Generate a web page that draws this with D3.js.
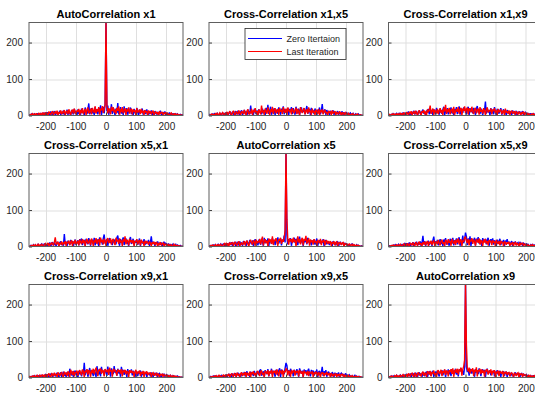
<!DOCTYPE html>
<html>
<head>
<meta charset="utf-8">
<script src="https://cdn.jsdelivr.net/npm/d3@7"></script>
<style>
  html, body { margin: 0; padding: 0; background: #ffffff; }
  svg { display: block; font-family: "Liberation Sans", Arial, Helvetica, sans-serif; }
</style>
</head>
<body>
<svg id="chart" width="535" height="398"></svg>
<script>
// Lag axis of the correlation sequences (every 3rd lag, -255 … 255)
const lags = d3.range(-255, 256, 3);

const titles = [
  "AutoCorrelation x1", "Cross-Correlation x1,x5", "Cross-Correlation x1,x9",
  "Cross-Correlation x5,x1", "AutoCorrelation x5", "Cross-Correlation x5,x9",
  "Cross-Correlation x9,x1", "Cross-Correlation x9,x5", "AutoCorrelation x9"
];
const seriesNames = ["Zero Itertaion", "Last Iteration"];
const xTicks = [-200, -100, 0, 100, 200];
const yTicks = [0, 100, 200];

// |correlation| at the zero iteration and at the last iteration, one pair per subplot
const zero11 = [0,2,1,4,0,3,5,1,2,6,0,4,2,7,1,3,6,2,8, 1,9,3,6,0,11,4,2,8,12,1,5,10,3,7,13,2,9,4,
  14,1,8,5,16,2,11,7,0,15,9,3,18,6,12,1,17,4,10, 2,19,7,13,0,22,9,4,16,33,3,11,20,6,14,1,24,8,17,
  3,21,10,28,1,15,24,6,30,256,12,27,2,18,9,31,4,22,13, 0,19,7,34,3,14,23,5,17,1,25,10,6,20,2,15,11,22,4,
  13,1,18,8,3,21,10,0,16,6,12,19,2,9,14,4,17,7,1, 11,5,14,2,9,0,12,6,3,10,1,8,13,4,0,9,5,11,2,
  7,0,4,8,1,5,2,6,0,3,5,1,4,0,2,3,1,2,0];
const last11 = [1,0,3,2,5,1,4,2,6,0,3,7,2,5,1,8,3,6,2, 9,4,1,11,6,3,8,12,2,7,10,4,13,1,9,5,14,3,11,
  6,15,2,10,13,4,17,8,1,12,16,5,19,9,3,14,11,18,2, 15,7,20,4,12,18,1,16,22,6,10,19,3,21,13,8,25,5,17,
  11,23,2,19,14,26,7,18,30,256,28,6,20,15,3,24,12,22,8, 16,4,21,13,25,2,18,9,23,6,14,20,1,17,11,22,5,15,19,
  3,17,10,14,1,20,8,12,16,4,18,7,13,2,15,9,11,0,14, 6,12,3,10,13,1,8,11,4,9,0,12,5,7,10,2,8,4,9,
  1,6,3,0,5,7,2,4,0,6,1,3,4,0,2,1,2,0,1];

const zero15 = [0,3,1,0,4,2,5,0,3,6,1,2,7,0,4,8,2,5,1, 9,3,0,7,11,2,6,10,4,1,12,8,3,13,5,0,10,14,2,
  7,15,4,11,1,16,9,3,27,6,13,0,18,10,5,14,2,17,8, 12,3,19,6,15,1,21,9,29,4,13,24,2,17,8,20,0,16,11,
  5,22,14,2,19,9,25,3,16,15,7,21,1,18,12,23,4,20,10, 2,24,13,6,19,1,17,22,8,11,20,3,15,26,5,12,18,0,21,
  9,14,4,19,11,1,16,7,22,3,13,31,6,10,17,2,15,8,12, 1,13,6,9,14,2,11,4,8,12,0,10,5,7,11,1,9,3,6,
  8,2,0,5,7,1,4,6,0,3,5,2,1,4,0,2,1,0,0];
const last15 = [1,0,2,4,1,3,0,5,2,6,3,1,7,4,2,8,5,1,6, 3,10,2,7,12,4,0,9,13,5,1,11,8,3,14,6,2,12,9,
  4,15,7,1,13,17,3,10,6,18,2,14,9,20,5,12,1,16,11, 3,27,8,14,2,19,11,5,22,13,1,17,9,24,4,15,20,6,12,
  18,2,21,10,16,4,23,13,7,19,1,22,14,9,17,3,20,12,6, 15,21,4,18,10,1,23,13,7,16,20,3,12,17,5,22,9,14,2,
  19,8,13,2,16,11,5,18,1,14,9,17,3,12,15,6,10,0,13, 7,11,2,14,5,9,12,1,10,6,3,11,8,0,9,4,7,2,8,
  5,1,6,3,0,4,2,5,1,0,3,2,4,1,0,2,1,0,1];

const zero19 = [0,2,0,3,1,5,2,0,4,6,1,3,7,2,5,0,8,3,6, 1,9,4,11,2,7,0,10,5,13,3,8,12,1,6,14,9,2,11,
  16,5,10,1,14,8,18,3,12,6,15,0,17,9,4,21,7,13,2, 19,10,5,16,24,1,13,8,20,3,17,11,22,6,14,0,18,9,23,
  4,15,25,2,19,11,7,22,13,18,3,16,24,1,20,10,14,6,21, 12,2,18,26,8,15,4,19,11,1,17,14,38,5,21,9,13,0,20,
  7,16,3,23,10,1,18,12,5,14,20,2,9,17,6,13,0,15,11, 4,12,8,1,14,6,10,2,13,0,9,7,11,3,8,12,1,6,9,
  3,7,0,5,2,6,1,4,0,3,5,1,2,4,0,1,2,0,0];
const last19 = [1,3,0,2,4,1,5,3,0,6,2,4,1,7,3,5,2,8,4, 0,9,6,2,10,4,12,1,8,11,3,13,7,0,10,14,5,2,12,
  8,15,3,11,1,17,9,14,27,5,12,19,2,16,10,6,18,4,13, 20,7,15,1,22,11,29,4,17,9,21,3,14,19,6,24,2,12,18,
  10,23,5,16,21,1,19,13,25,7,17,22,3,20,14,9,24,11,4, 18,21,6,14,19,2,23,10,16,5,20,13,1,17,22,8,15,11,19,
  3,16,12,20,6,14,1,18,9,13,17,4,11,15,0,19,8,12,5, 14,2,10,13,5,9,12,1,11,7,3,10,8,0,9,6,11,2,7,
  4,6,1,5,3,0,4,2,5,1,3,0,2,3,1,0,2,1,0];

const zero51 = [0,1,3,0,2,5,1,4,0,3,6,2,1,5,7,0,3,8,2, 6,1,9,4,11,0,7,12,3,10,5,2,13,8,1,11,14,4,9,
  2,34,6,13,1,16,10,4,18,8,15,0,12,19,5,11,17,3,20, 9,22,4,14,18,1,21,11,6,23,13,2,19,16,7,24,3,15,20,
  10,1,25,12,18,5,22,33,8,14,20,2,17,23,9,15,4,21,11, 19,6,24,30,13,2,20,10,17,25,4,15,22,8,12,1,18,26,7,
  14,21,3,16,10,19,5,13,22,1,17,11,8,20,4,15,9,12,18, 2,11,28,6,13,9,1,12,7,14,3,10,5,11,0,8,13,4,9,
  6,1,8,3,5,0,4,7,2,3,6,0,4,2,1,3,0,1,0];
const last51 = [1,0,2,3,1,4,0,5,2,3,6,1,4,2,7,3,0,5,8, 2,6,10,1,8,4,11,7,3,12,25,5,9,13,1,10,6,14,3,
  11,7,15,2,13,9,16,4,12,17,1,14,8,18,5,10,16,3,19, 13,6,20,9,17,2,15,21,8,12,19,4,22,14,1,18,11,23,7,
  16,20,3,24,12,18,6,21,15,2,19,23,9,13,22,5,17,20,10, 4,24,14,18,7,22,11,16,1,20,13,28,6,19,15,3,21,12,17,
  9,18,2,15,12,20,6,14,17,3,19,10,13,1,16,8,15,11,5, 14,9,2,12,8,13,4,10,11,0,9,6,12,3,8,10,1,7,5,
  6,2,7,1,4,5,0,3,6,2,4,1,3,0,2,1,0,1,0];

const zero55 = [0,2,1,3,0,4,2,5,1,3,6,0,4,7,2,5,8,1,6, 3,9,1,7,10,4,12,2,8,11,5,0,13,9,3,14,6,10,2,
  15,7,12,1,16,9,4,18,11,6,17,2,13,20,8,15,3,19,10, 5,21,14,2,24,9,17,12,22,1,19,15,7,23,11,18,4,20,13,
  25,8,16,22,3,19,14,30,11,256,33,6,20,15,23,2,18,12,24, 10,21,16,4,19,27,8,14,22,1,17,12,20,6,24,13,9,18,3,
  16,11,19,5,14,22,2,13,17,8,15,10,20,1,12,18,6,14,9, 4,13,10,1,15,7,12,3,11,14,0,9,13,5,8,11,2,10,6,
  7,3,0,6,2,5,8,1,4,3,0,5,2,3,1,0,2,1,0];
const last55 = [1,0,3,1,4,2,0,5,3,1,6,2,4,7,0,3,5,8,2, 10,4,7,1,11,5,9,12,2,8,13,6,3,10,14,1,7,11,4,
  9,15,3,12,16,6,1,14,18,10,5,17,13,2,19,8,15,11,21, 6,17,27,3,14,20,9,16,1,22,12,19,7,28,4,18,15,23,10,
  2,20,16,24,7,19,13,22,45,256,75,18,5,22,14,20,9,24,13, 19,1,15,28,11,21,6,17,24,3,21,16,29,8,14,23,2,19,12,
  17,5,20,11,15,1,18,13,9,21,4,16,12,19,3,14,17,7,13, 10,15,2,12,9,14,3,11,13,1,10,8,12,4,9,11,0,8,6,
  7,2,5,8,1,4,6,0,5,3,2,4,1,3,2,0,1,1,0];

const zero59 = [0,2,1,0,3,1,4,2,5,0,3,6,1,4,2,7,0,5,8, 3,9,1,6,11,2,8,4,12,0,10,7,13,3,9,5,14,1,11,
  29,6,15,2,12,8,16,4,10,13,1,17,27,5,14,9,18,3,11, 20,7,15,1,19,12,23,5,16,10,2,21,14,8,24,3,17,13,22,
  6,19,25,2,16,12,30,9,18,38,27,4,22,15,28,1,20,13,17, 24,3,21,14,26,8,19,11,1,23,16,13,21,6,18,24,2,15,20,
  11,22,5,17,13,1,19,9,15,21,4,14,11,18,2,16,12,20,7, 13,3,10,15,1,12,8,14,4,9,11,0,13,6,10,2,9,7,4,
  8,1,6,3,0,5,2,7,1,4,3,0,5,2,1,3,0,1,0];
const last59 = [1,0,2,1,3,2,4,0,3,5,1,4,2,6,3,1,5,7,2, 6,2,9,4,1,10,7,3,11,5,0,12,8,2,10,13,4,9,1,
  12,6,14,3,11,15,1,13,8,16,4,12,17,2,10,14,6,18,9, 3,15,19,7,12,1,18,14,5,20,10,16,2,21,13,8,17,4,19,
  11,22,6,15,20,1,17,13,24,26,16,9,21,3,18,14,23,7,19, 13,2,20,16,10,22,5,17,14,1,19,11,21,8,15,3,18,12,16,
  4,17,10,14,1,18,12,7,15,3,16,9,13,0,14,11,5,12,8, 13,2,10,7,12,1,9,11,3,10,6,0,11,5,8,9,2,7,4,
  6,1,5,3,0,4,2,5,1,3,2,0,4,1,2,0,1,1,0];

const zero91 = [0,2,0,3,1,4,2,0,5,3,1,6,2,4,7,0,3,5,8, 2,9,4,0,10,6,12,1,8,11,3,7,13,5,0,10,14,2,9,
  16,5,11,1,15,8,3,24,10,6,17,2,13,19,7,12,0,18,9, 14,3,20,11,40,6,17,22,2,15,26,9,19,13,4,21,11,1,31,
  17,8,24,3,29,14,19,6,22,17,4,30,12,20,2,25,16,9,31, 13,20,5,24,11,18,2,29,14,21,7,19,16,1,23,10,17,13,22,
  6,18,15,1,11,16,4,14,12,19,2,16,7,13,9,15,0,12,10, 11,3,14,8,1,13,6,10,12,2,9,11,5,0,10,7,9,3,6,
  8,2,5,0,6,3,1,5,4,0,3,2,4,1,2,0,1,1,0];
const last91 = [1,3,0,2,4,1,5,2,3,6,0,4,7,2,5,8,1,6,3, 9,2,7,11,4,0,12,8,3,13,6,10,1,14,9,4,11,15,5,
  2,16,10,13,4,17,11,1,21,14,7,18,3,15,12,19,5,16,20, 13,6,22,17,1,19,14,23,8,20,16,2,21,12,24,9,18,27,15,
  4,22,17,25,10,21,18,3,23,19,15,22,7,27,16,20,2,24,18, 21,14,5,22,17,20,11,23,3,19,16,21,9,18,15,1,20,13,19,
  12,17,2,15,21,8,16,13,19,4,15,10,18,1,14,12,17,6,13, 9,14,1,11,13,5,10,12,3,11,8,0,10,7,9,2,8,6,4,
  7,3,5,1,6,4,0,5,2,4,1,3,2,0,2,1,1,0,0];

const zero95 = [0,1,3,0,2,4,1,5,0,3,2,6,1,4,7,0,3,5,2, 8,1,6,10,3,9,0,11,5,7,12,2,8,13,4,10,1,14,6,
  9,15,3,12,17,6,11,1,16,8,14,4,18,10,2,15,13,7,19, 22,5,12,17,1,20,14,9,23,3,16,11,24,7,18,13,2,21,15,
  6,19,25,1,22,14,17,9,26,40,33,12,20,4,24,15,18,3,21, 16,8,23,13,2,25,17,10,19,1,22,14,20,6,18,24,11,3,21,
  13,19,5,16,12,22,1,15,18,9,14,29,4,17,11,20,2,13,16, 7,12,3,15,10,1,13,8,11,4,14,0,9,12,6,10,2,8,11,
  3,6,1,7,4,0,5,2,3,6,0,4,2,1,3,0,1,1,0];
const last95 = [1,0,2,1,3,0,4,2,5,1,3,6,2,4,0,5,7,3,6, 2,8,4,10,1,7,11,5,3,12,9,2,13,6,10,1,11,14,4,
  12,7,15,2,13,10,5,16,1,14,11,17,6,12,3,15,18,9,4, 16,19,7,13,2,18,15,10,20,4,17,12,21,1,16,14,19,8,22,
  13,3,20,17,9,21,1,18,14,24,22,6,19,15,2,21,11,17,20, 5,18,13,19,3,20,16,10,17,1,19,12,15,7,18,4,16,13,11,
  17,2,14,9,16,12,4,15,10,1,13,11,14,3,12,9,15,6,10, 11,0,12,8,3,10,7,11,1,9,6,10,2,8,9,4,7,1,6,
  5,3,6,0,4,2,5,1,3,0,4,2,1,3,0,2,1,0,0];

const zero99 = [0,2,1,4,0,3,5,1,2,6,3,0,4,7,2,5,1,8,3, 6,10,2,9,4,11,0,8,12,5,3,13,9,1,10,14,6,11,2,
  15,8,4,13,16,1,11,17,9,5,14,18,2,12,16,7,19,10,3, 17,13,20,6,15,21,1,18,12,22,9,16,4,23,14,19,11,24,8,
  20,3,22,17,26,13,19,7,28,256,30,15,22,5,24,18,11,21,16, 2,23,14,20,9,25,17,4,19,22,12,21,1,18,24,10,15,20,6,
  17,13,19,3,16,11,20,8,14,18,2,15,12,17,5,13,16,1,14, 10,13,4,12,9,1,11,14,6,10,8,12,0,9,11,3,10,7,5,
  8,2,6,4,0,5,3,1,6,2,4,0,3,2,1,0,2,0,0];
const last99 = [1,0,3,2,4,1,0,5,3,6,2,4,1,7,3,5,8,2,6, 4,9,1,11,7,3,10,12,5,2,13,8,0,11,14,6,9,3,12,
  16,5,13,10,2,17,14,8,18,3,15,11,19,6,12,1,17,20,9, 14,21,4,18,12,22,7,19,16,3,20,15,23,10,25,2,17,22,13,
  24,8,21,19,27,5,22,30,48,256,90,24,16,27,11,22,19,25,4, 21,15,28,3,20,18,24,9,22,13,19,2,21,17,23,8,19,12,22,
  6,18,15,20,1,16,13,19,4,17,14,11,18,2,15,12,16,7,13, 14,3,11,13,9,1,12,10,4,11,13,0,10,8,11,2,9,7,5,
  8,4,1,6,3,5,0,4,2,5,1,3,0,2,1,2,0,1,0];

const panels = [
  [zero11, last11], [zero15, last15], [zero19, last19],
  [zero51, last51], [zero55, last55], [zero59, last59],
  [zero91, last91], [zero95, last95], [zero99, last99]
].map((pair, i) => ({ title: titles[i], zero: pair[0], last: pair[1] }));

const colors = ["#0000ff", "#ff0000"];

// Subplot geometry
const colLeft = [29, 209, 388.5];
const rowTop = [22.5, 153.5, 284.5];
const pw = 154, ph = 93;

const svg = d3.select("#chart");
const x = d3.scaleLinear().domain([-255, 255]).range([0, pw]);
const y = d3.scaleLinear().domain([0, 255]).range([ph, 0]);
const line = d3.line().x((d, i) => x(lags[i])).y(d => y(d));

panels.forEach((p, k) => {
  const g = svg.append("g")
    .attr("transform", `translate(${colLeft[k % 3]},${rowTop[Math.floor(k / 3)]})`);

  g.append("rect").attr("width", pw).attr("height", ph).attr("fill", "#ffffff");

  // grid
  g.append("g").selectAll("line").data(xTicks).join("line")
    .attr("x1", d => Math.round(x(d)) + 0.5).attr("x2", d => Math.round(x(d)) + 0.5)
    .attr("y1", 0).attr("y2", ph)
    .attr("stroke", "#dfdfdf").attr("stroke-width", 1);
  g.append("g").selectAll("line").data(yTicks.filter(d => d > 0)).join("line")
    .attr("y1", d => Math.round(y(d)) + 0.5).attr("y2", d => Math.round(y(d)) + 0.5)
    .attr("x1", 0).attr("x2", pw)
    .attr("stroke", "#dfdfdf").attr("stroke-width", 1);

  const clipId = "clip" + k;
  g.append("clipPath").attr("id", clipId)
    .append("rect").attr("width", pw).attr("height", ph);

  const plot = g.append("g").attr("clip-path", `url(#${clipId})`);
  [p.zero, p.last].forEach((vals, s) => {
    plot.append("path").datum(vals)
      .attr("d", line)
      .attr("fill", "none")
      .attr("stroke", colors[s])
      .attr("stroke-width", 1.4)
      .attr("stroke-linejoin", "miter")
      .attr("stroke-miterlimit", 2);
  });

  // axes (ticks inside, MATLAB style)
  const ax = d3.axisBottom(x).tickValues(xTicks).tickSizeInner(-3).tickSizeOuter(0).tickPadding(7);
  const ay = d3.axisLeft(y).tickValues(yTicks).tickSizeInner(-3).tickSizeOuter(0).tickPadding(6);
  const gx = g.append("g").attr("transform", `translate(0,${ph})`).call(ax);
  const gy = g.append("g").call(ay);
  [gx, gy].forEach(a => {
    a.select(".domain").remove();
    a.selectAll("line").attr("stroke", "#404040");
    a.selectAll("text").attr("fill", "#262626").attr("font-size", "10px")
      .attr("font-family", "\"Liberation Sans\", Arial, sans-serif");
  });
  gx.selectAll("text").text(d => d < 0 ? "-" + Math.abs(d) : d);

  // box
  g.append("rect").attr("x", 0).attr("y", 0).attr("width", pw).attr("height", ph)
    .attr("fill", "none").attr("stroke", "#5e5e5e").attr("stroke-width", 1);

  // title
  g.append("text")
    .attr("x", pw / 2).attr("y", -4.5)
    .attr("text-anchor", "middle")
    .attr("font-size", "11px").attr("font-weight", "bold")
    .attr("fill", "#000000")
    .text(p.title);

  // legend in the second subplot
  if (k === 1) {
    const lg = g.append("g").attr("transform", "translate(36,6)");
    lg.append("rect").attr("width", 101).attr("height", 31)
      .attr("fill", "#ffffff").attr("stroke", "#262626").attr("stroke-width", 0.8);
    seriesNames.forEach((name, s) => {
      const yy = 10 + s * 13;
      lg.append("line").attr("x1", 3).attr("x2", 37).attr("y1", yy).attr("y2", yy)
        .attr("stroke", colors[s]).attr("stroke-width", 1);
      lg.append("text").attr("x", 41.5).attr("y", yy + 3.2)
        .attr("font-size", "9px").attr("fill", "#262626")
        .text(name);
    });
  }
});
</script>
</body>
</html>
